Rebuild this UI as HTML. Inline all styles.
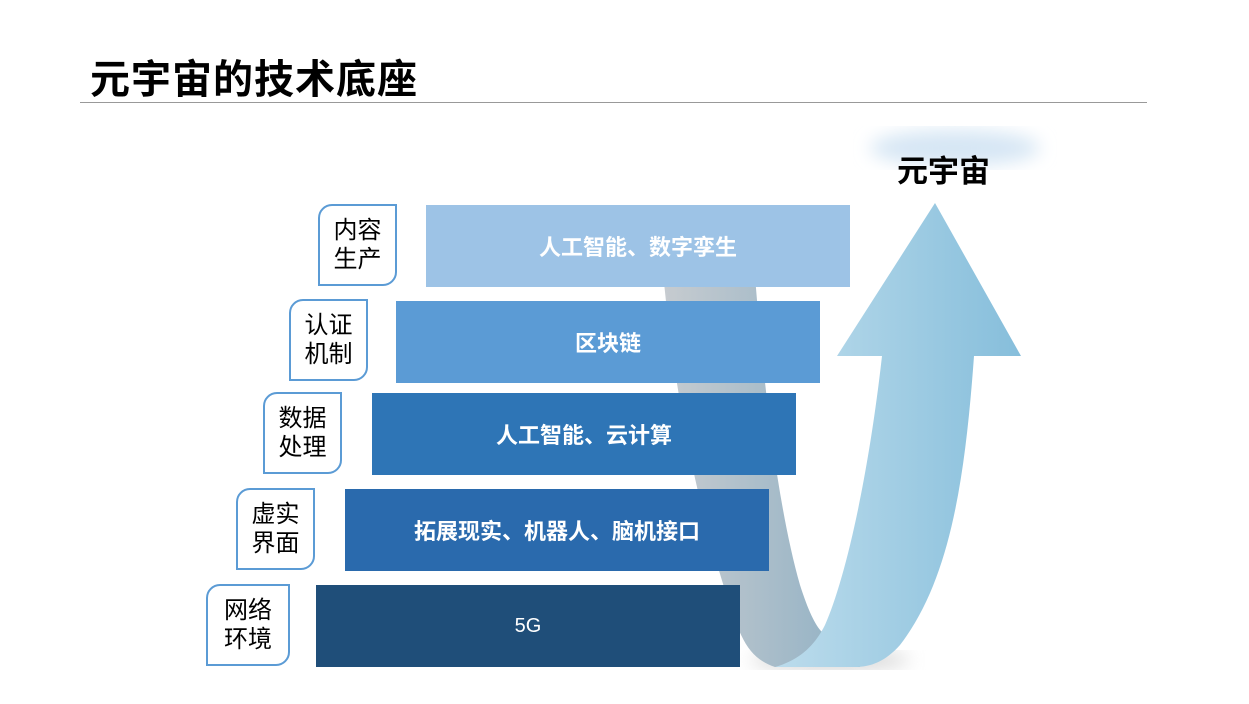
<!DOCTYPE html>
<html><head><meta charset="utf-8"><style>
body{margin:0;width:1249px;height:704px;background:#fff;position:relative;overflow:hidden;font-family:"Liberation Sans","Noto Sans CJK SC",sans-serif}
.t{position:absolute;left:90px;top:47px;font-size:40px;font-weight:bold;color:#000;letter-spacing:1px}
.hr{position:absolute;left:80px;top:102px;width:1067px;height:1px;background:#999}
.lb{position:absolute;width:79px;height:82px;border:2px solid #5b9bd5;border-radius:14px 0 14px 0;box-sizing:border-box;background:#fff;display:flex;align-items:center;justify-content:center;text-align:center;font-size:24px;line-height:29px;color:#000}
.bar{position:absolute;width:424px;height:82px;display:flex;align-items:center;justify-content:center;color:#fff;font-size:22px;font-weight:bold}
</style></head><body>
<div class="t">元宇宙的技术底座</div>
<div class="hr"></div>
<svg width="1249" height="704" style="position:absolute;left:0;top:0">
<defs>
<filter id="bl"><feGaussianBlur stdDeviation="9"/></filter>
<linearGradient id="gg" x1="0" x2="1" y1="0" y2="0"><stop offset="0" stop-color="#c8ccd0"/><stop offset="1" stop-color="#8fb0c4"/></linearGradient>
<linearGradient id="bg" x1="0" x2="1" y1="0" y2="0"><stop offset="0" stop-color="#bcdcec"/><stop offset="1" stop-color="#86bedb"/></linearGradient>
</defs>
<ellipse cx="955" cy="148" rx="85" ry="18" fill="#d6e6f4" filter="url(#bl)"/>
<ellipse cx="830" cy="660" rx="80" ry="8" fill="#ccc" filter="url(#bl)"/>
<path d="M658 205 L750 205 C756 300 770 480 800 585 C808 610 815 625 822 632 L860 667 L775 667 C755 660 745 648 735 620 C700 520 668 380 658 205 Z" fill="url(#gg)"/>
<path d="M935 203 L1021 356 L974 356 C965 480 950 580 900 645 C885 662 870 667 855 667 L775 667 C800 660 815 645 825 625 C845 580 868 480 882 356 L837 356 Z" fill="url(#bg)"/>
</svg>
<div style="position:absolute;left:897px;top:146px;font-size:31px;font-weight:bold;color:#000">元宇宙</div>
<div class="bar" style="left:426px;top:205px;background:#9dc3e6">人工智能、数字孪生</div>
<div class="bar" style="left:396px;top:301px;background:#5b9bd5">区块链</div>
<div class="bar" style="left:372px;top:393px;background:#2e75b6">人工智能、云计算</div>
<div class="bar" style="left:345px;top:489px;background:#2a6aad">拓展现实、机器人、脑机接口</div>
<div class="bar" style="left:316px;top:585px;background:#1f4e79;font-weight:normal;font-size:20px">5G</div>
<div class="lb" style="left:318px;top:204px">内容<br>生产</div>
<div class="lb" style="left:289px;top:299px">认证<br>机制</div>
<div class="lb" style="left:263px;top:392px">数据<br>处理</div>
<div class="lb" style="left:236px;top:488px">虚实<br>界面</div>
<div class="lb" style="left:206px;top:584px;width:84px">网络<br>环境</div>
</body></html>
